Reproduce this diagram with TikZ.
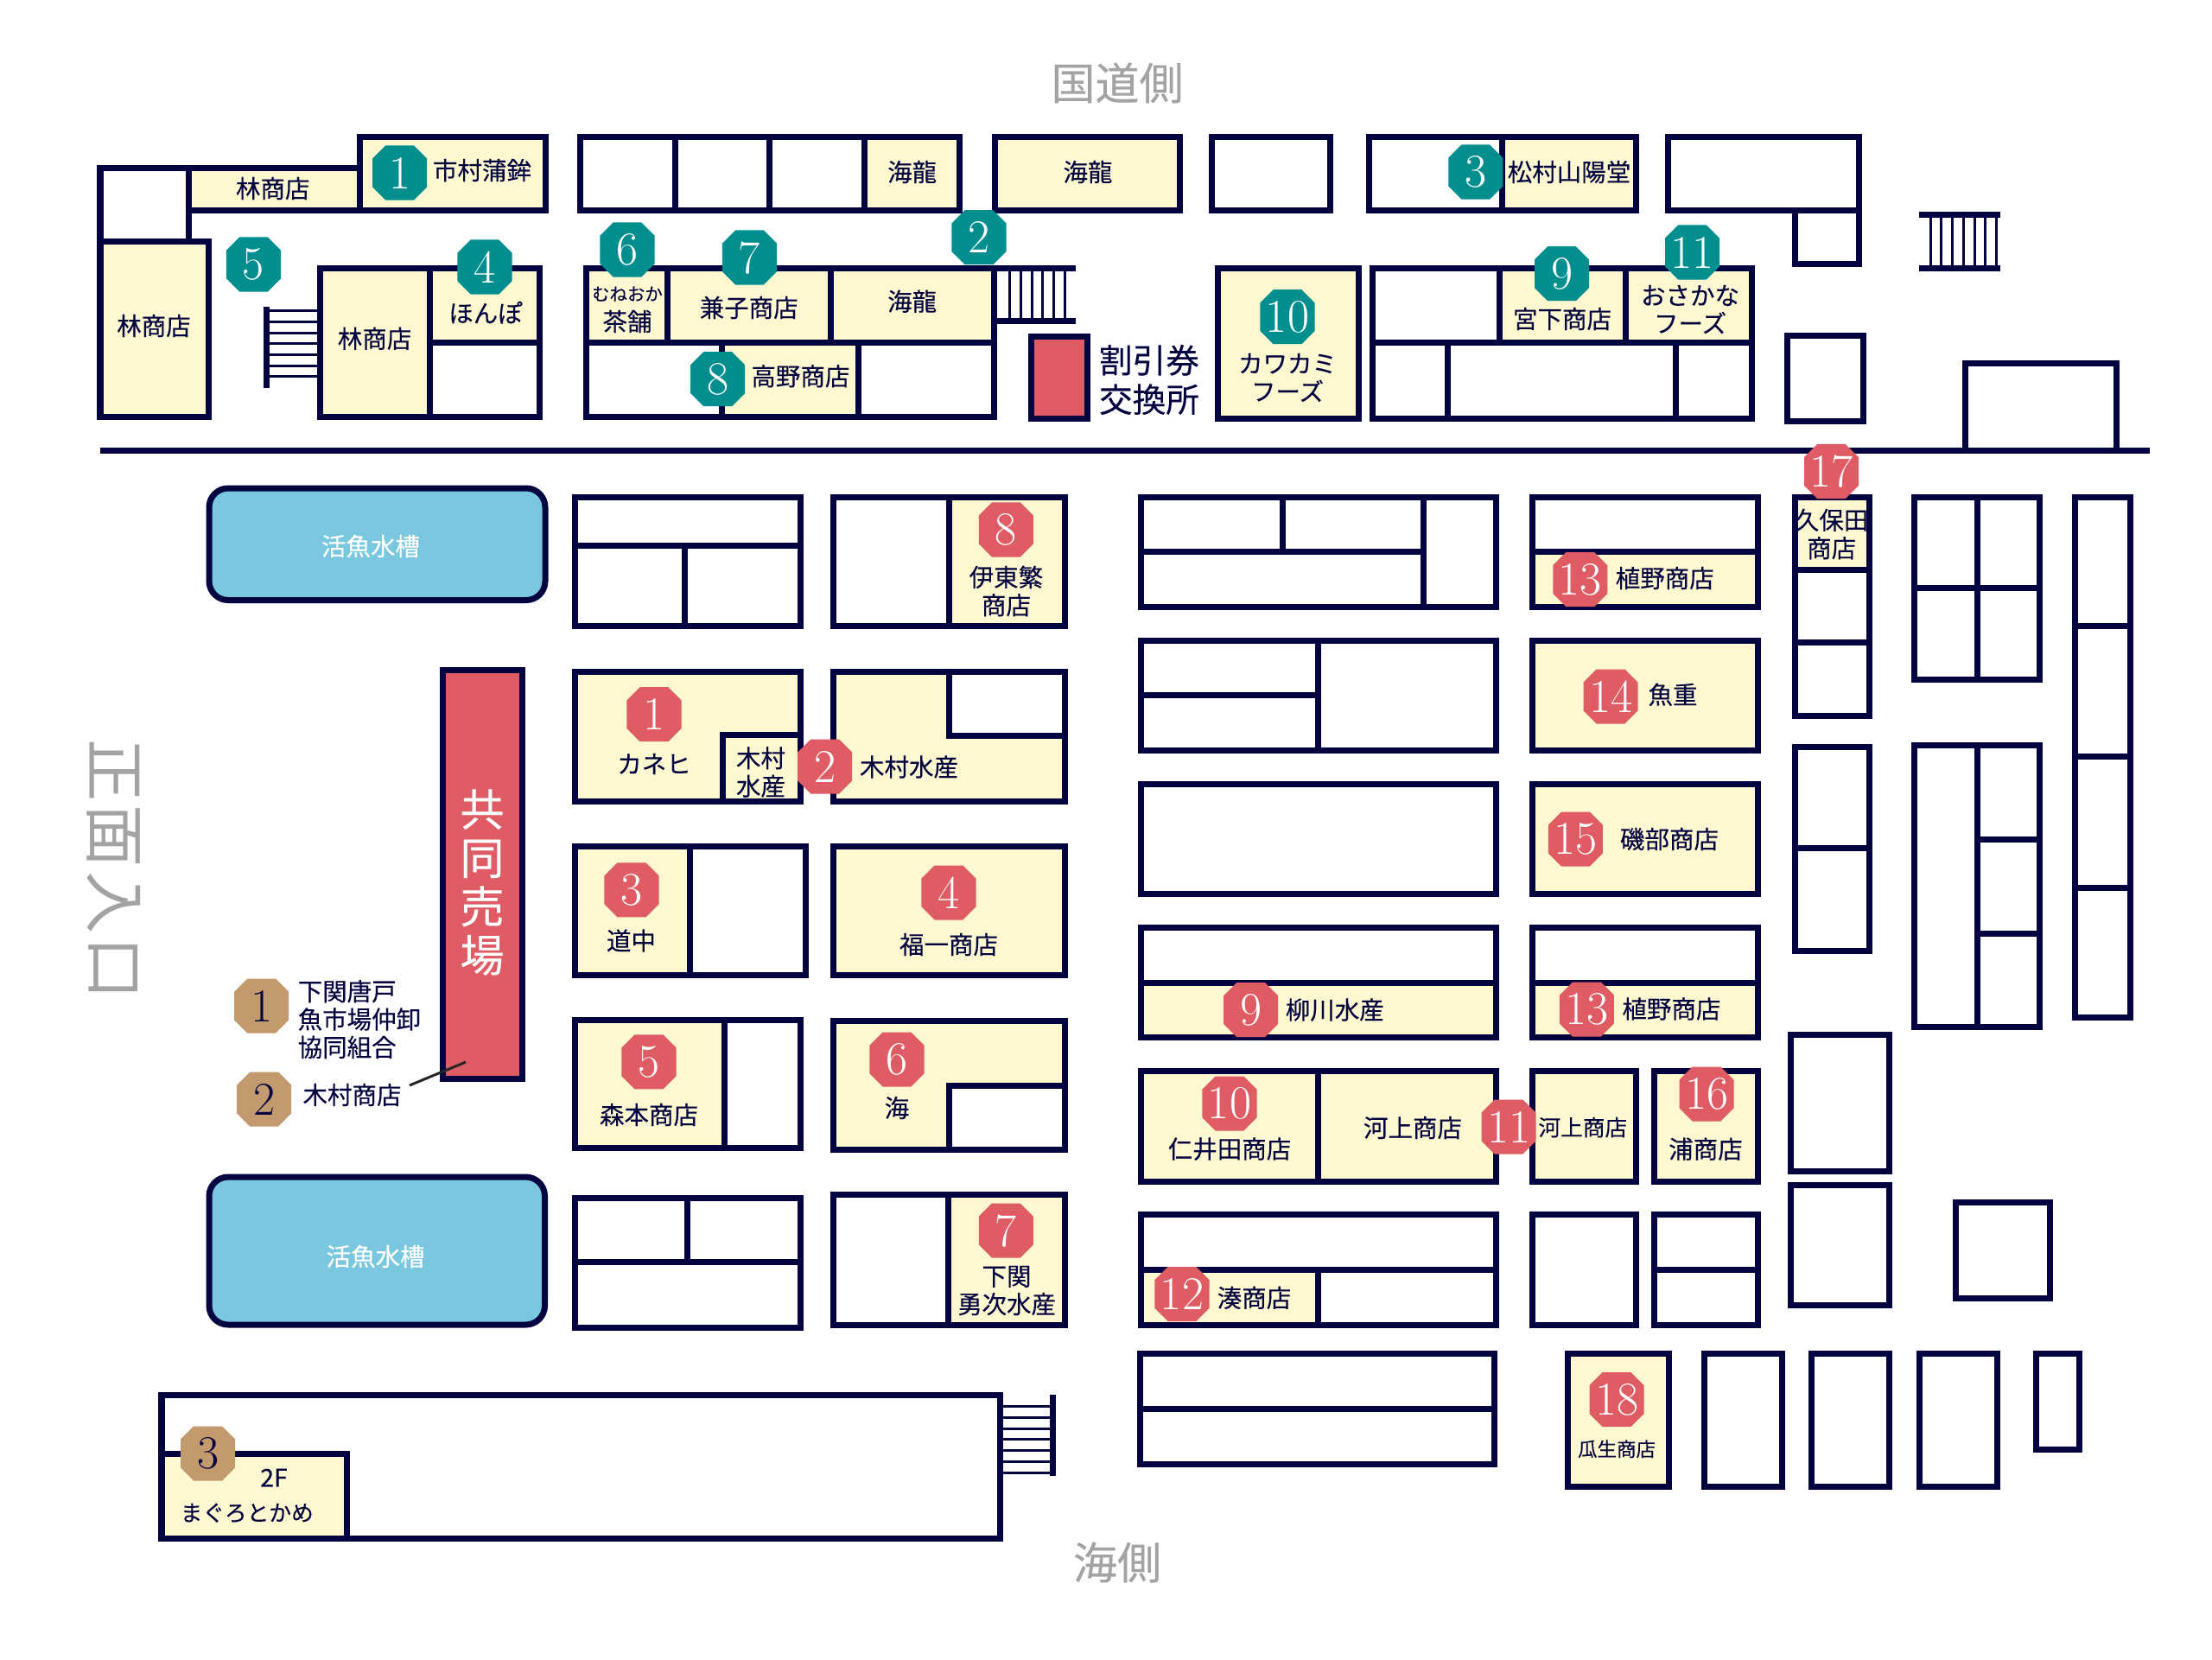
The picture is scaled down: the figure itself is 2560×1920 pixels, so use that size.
\documentclass[tikz,border=0pt]{standalone}
\usepackage{fontspec}
\usetikzlibrary{shapes.misc}
\newfontfamily\cjk[FakeBold=0.2]{Noto Sans CJK JP}
\newfontfamily\cjkgap[LetterSpace=6]{Noto Sans CJK JP}
\definecolor{mapnavy}{HTML}{03033F}
\definecolor{mapcream}{HTML}{FEF8D0}
\definecolor{mapred}{HTML}{E05C64}
\definecolor{mapteal}{HTML}{008E8E}
\definecolor{maptan}{HTML}{C29A6E}
\definecolor{mapblue}{HTML}{7AC8DF}
\definecolor{mapgray}{HTML}{A3A3A5}
\tikzset{
  stall/.style={draw=mapnavy,line width=.07cm,fill=white},
  shop/.style={stall,fill=mapcream},
  tank/.style={stall,fill=mapblue,rounded corners=.22cm},
  wall/.style={draw=mapnavy,line width=.07cm},
  tread/.style={draw=mapnavy,line width=.03cm},
  lbl/.style={text=mapnavy,inner sep=0pt,align=center,font=\cjk\fontsize{8.1}{9.2}\selectfont},
  smalllbl/.style={lbl,font=\cjk\fontsize{7.3}{9.2}\selectfont},
  sidelbl/.style={text=mapgray,inner sep=0pt,font=\cjk\fontsize{14.5}{16}\selectfont},
  badge/.style={chamfered rectangle,chamfered rectangle xsep=.05cm,inner sep=0pt,
    minimum width=.63cm,minimum height=.63cm,font=\rmfamily\fontsize{15.5}{16}\selectfont},
  tealbadge/.style={badge,fill=mapteal,text=white},
  redbadge/.style={badge,fill=mapred,text=white},
  tanbadge/.style={badge,fill=maptan,text=mapnavy}
}
\begin{document}
\begin{tikzpicture}[x=0.01cm,y=-0.01cm]
  \useasboundingbox (0,0) rectangle (2560,1920);

  % draw road
  \draw[wall] (116,521.5) -- (2488,521.5);

  % north side, top row
  \draw[stall] (116,194) rectangle (218,279);
  \draw[shop] (218,194) rectangle (416.5,243);
  \draw[shop] (416.5,158) rectangle (631.5,243);
  \draw[stall] (671.5,158) rectangle (1110,243);
  \draw[wall] (781,158) -- (781,243);
  \draw[wall] (890,158) -- (890,243);
  \draw[shop] (1000,158) rectangle (1110,243);
  \draw[shop] (1151.5,158) rectangle (1365.5,243);
  \draw[stall] (1402,158) rectangle (1539,243);
  \draw[stall] (1584,158) rectangle (1738.7,243);
  \draw[shop] (1738.7,158) rectangle (1893.5,243);
  \draw[stall] (1930.5,158) rectangle (2151,243);
  \draw[stall] (2077.5,243) rectangle (2151,305.5);

  % north side, second row
  \draw[shop] (116,279) rectangle (241,482);
  \draw[shop] (370.5,310) rectangle (497,482);
  \draw[shop] (497,310) rectangle (624.5,396);
  \draw[stall] (497,396) rectangle (624.5,482);
  \draw[stall] (678,396) rectangle (1150,482);
  \draw[shop] (835,396) rectangle (993,482);
  \draw[shop] (678,310) rectangle (772.6,396);
  \draw[shop] (772.6,310) rectangle (961.6,396);
  \draw[shop] (961.6,310) rectangle (1150,396);
  \draw[stall,fill=mapred] (1193,389) rectangle (1258.5,484);
  \draw[shop] (1409,310) rectangle (1572,484.5);
  \draw[stall] (1588.7,310) rectangle (2027,484.5);
  \draw[wall] (1588.7,396.7) -- (2027,396.7);
  \draw[shop] (1735.5,310) rectangle (1881,396.7);
  \draw[shop] (1881,310) rectangle (2027,396.7);
  \draw[wall] (1675,396.7) -- (1675,484.5);
  \draw[wall] (1939,396.7) -- (1939,484.5);
  \draw[stall] (2068,388) rectangle (2156,487);
  \draw[stall] (2274,420) rectangle (2449.5,521.5);

  % draw stairs
  \draw[wall] (308,355) -- (308,449);
  \foreach \ty in {359,372,385,397,410,423,435}
    \draw[tread] (308,\ty) -- (370.5,\ty);
  \foreach \tx in {1168,1181,1194,1206,1219,1232}
    \draw[tread] (\tx,310) -- (\tx,371);
  \draw[wall] (1150,310) -- (1245,310);
  \draw[wall] (1150,371) -- (1245,371);
  \foreach \tx in {2234,2246.5,2259,2272,2285,2297.5,2310}
    \draw[tread] (\tx,248.5) -- (\tx,310);
  \draw[wall] (2221,248.5) -- (2315,248.5);
  \draw[wall] (2221,310) -- (2315,310);
  \draw[wall] (1218.6,1613.6) -- (1218.6,1708);
  \foreach \ty in {1627.5,1640,1653.6,1665.7,1678,1691,1704}
    \draw[tread] (1157,\ty) -- (1218.6,\ty);

  % draw tanks and shared stall
  \draw[tank] (242,565) rectangle (631,694.5);
  \draw[tank] (242,1362) rectangle (630.5,1533);
  \draw[stall,fill=mapred] (512,775) rectangle (604.5,1248);

  % first column of blocks
  \draw[stall] (665,575) rectangle (926,724.5);
  \draw[wall] (665,631) -- (926,631);
  \draw[wall] (792.5,631) -- (792.5,724.5);
  \draw[shop] (665,777) rectangle (926,927);
  \draw[shop] (836,850) rectangle (926,927);
  \draw[stall] (665,979.5) rectangle (932,1128);
  \draw[shop] (665,979.5) rectangle (798.6,1128);
  \draw[stall] (665,1180) rectangle (926,1328.5);
  \draw[shop] (665,1180) rectangle (838.4,1328.5);
  \draw[stall] (665,1386) rectangle (926,1536.5);
  \draw[wall] (665,1460.7) -- (926,1460.7);
  \draw[wall] (795.4,1386) -- (795.4,1460.7);

  % second column of blocks
  \draw[stall] (964.5,575) rectangle (1232,724.5);
  \draw[shop] (1098,575) rectangle (1232,724.5);
  \draw[shop] (964.5,777) rectangle (1232,927);
  \draw[stall] (1098,777) rectangle (1232,851);
  \draw[shop] (964.5,979.5) rectangle (1232,1128);
  \draw[shop] (964.5,1181.5) rectangle (1232,1330.5);
  \draw[stall] (1098,1256) rectangle (1232,1330.5);
  \draw[stall] (964.5,1382) rectangle (1232,1533);
  \draw[shop] (1097.6,1382) rectangle (1232,1533);

  % third column of blocks
  \draw[stall] (1320.4,575) rectangle (1731,702);
  \draw[wall] (1320.4,638) -- (1647.4,638);
  \draw[wall] (1484.4,575) -- (1484.4,638);
  \draw[wall] (1647.4,575) -- (1647.4,702);
  \draw[stall] (1320.4,741) rectangle (1731,868);
  \draw[wall] (1525.7,741) -- (1525.7,868);
  \draw[wall] (1320.4,804) -- (1525.7,804);
  \draw[stall] (1320.4,907) rectangle (1731,1034.5);
  \draw[stall] (1320.4,1073) rectangle (1731,1137);
  \draw[shop] (1320.4,1137) rectangle (1731,1200);
  \draw[shop] (1320.4,1239) rectangle (1525.7,1367);
  \draw[shop] (1525.7,1239) rectangle (1731,1367);
  \draw[stall] (1320.4,1405) rectangle (1731,1469);
  \draw[stall] (1525.7,1469) rectangle (1731,1533);
  \draw[shop] (1320.4,1469) rectangle (1525.7,1533);
  \draw[stall] (1319,1566.5) rectangle (1729.5,1694);
  \draw[wall] (1319,1630) -- (1729.5,1630);

  % fourth column of blocks
  \draw[stall] (1773.5,575) rectangle (2034,638);
  \draw[shop] (1773.5,638) rectangle (2034,702);
  \draw[shop] (1773.5,741) rectangle (2034,868);
  \draw[shop] (1773.5,907) rectangle (2034,1034.5);
  \draw[stall] (1773.5,1073) rectangle (2034,1137);
  \draw[shop] (1773.5,1137) rectangle (2034,1200);
  \draw[shop] (1773.5,1239) rectangle (1893,1367);
  \draw[shop] (1914,1239) rectangle (2034,1367);
  \draw[stall] (1773.5,1405) rectangle (1893,1533);
  \draw[stall] (1914,1405) rectangle (2034,1533);
  \draw[wall] (1914,1469) -- (2034,1469);
  \draw[shop] (1814.7,1566.5) rectangle (1931.5,1720.5);

  % far right blocks
  \draw[stall] (2077,575) rectangle (2163.5,828);
  \draw[shop] (2077,575) rectangle (2163.5,659);
  \draw[wall] (2077,743) -- (2163.5,743);
  \draw[stall] (2077,864) rectangle (2163.5,1100);
  \draw[wall] (2077,981) -- (2163.5,981);
  \draw[stall] (2072.6,1197) rectangle (2186,1355);
  \draw[stall] (2072.6,1371) rectangle (2186,1510.5);
  \draw[stall] (2263,1391.4) rectangle (2372.5,1502);
  \draw[stall] (2215.7,575) rectangle (2360,786);
  \draw[wall] (2288.7,575) -- (2288.7,786);
  \draw[wall] (2215.7,680) -- (2360,680);
  \draw[stall] (2215.7,862) rectangle (2360,1188.5);
  \draw[wall] (2288.7,862) -- (2288.7,1188.5);
  \draw[wall] (2288.7,971) -- (2360,971);
  \draw[wall] (2288.7,1080) -- (2360,1080);
  \draw[stall] (2401,575) rectangle (2465,1177);
  \draw[wall] (2401,724.7) -- (2465,724.7);
  \draw[wall] (2401,875.7) -- (2465,875.7);
  \draw[wall] (2401,1027) -- (2465,1027);
  \draw[stall] (1972,1566.5) rectangle (2062.5,1720.5);
  \draw[stall] (2096.5,1566.5) rectangle (2186,1720.5);
  \draw[stall] (2221,1566.5) rectangle (2311,1720.5);
  \draw[stall] (2356.5,1566.5) rectangle (2406,1677);

  % south hall
  \draw[stall] (187,1614) rectangle (1157,1780);
  \draw[shop] (187,1682) rectangle (401.5,1780);

  % leader line
  \coordinate (leader_a) at (474,1256);
  \coordinate (leader_b) at (539,1229);
  \draw[draw=black!85,line width=.03cm] (leader_a) -- (leader_b);

  % side names
  \node[sidelbl] (kokudo) at (1293,96) {国道側};
  \node[sidelbl] (umigawa) at (1293,1808) {海側};
  \node[sidelbl,rotate=-90,font=\cjkgap\fontsize{20.5}{22}\selectfont] (shomen) at (131.5,1006) {正面入口};

  % north labels
  \node[lbl] (hayashi1) at (315.7,218) {林商店};
  \node[lbl] (ichimura) at (558,197) {市村蒲鉾};
  \node[lbl] (kairyu1) at (1055.7,199) {海龍};
  \node[lbl] (kairyu2) at (1259,199) {海龍};
  \node[lbl] (matsumura) at (1816,199) {松村山陽堂};
  \node[lbl] (hayashi2) at (178,377) {林商店};
  \node[lbl] (hayashi3) at (433.6,391.7) {林商店};
  \node[lbl] (honpo) at (562,361.7) {ほんぽ};
  \node[lbl,font=\cjk\fontsize{5.8}{6.5}\selectfont] (muneoka) at (726,340) {むねおか};
  \node[lbl] (chaho) at (726,372) {茶舗};
  \node[lbl] (kaneko) at (866.7,356) {兼子商店};
  \node[lbl] (kairyu3) at (1055.7,348.7) {海龍};
  \node[lbl] (takano) at (926.4,435.3) {高野商店};
  \node[lbl] (miyashita) at (1808,369) {宮下商店};
  \node[lbl] (osakana) at (1956,358) {おさかな\\フーズ};
  \node[lbl] (kawakami) at (1490,437) {カワカミ\\フーズ};
  \node[lbl,font=\cjk\fontsize{11}{12.9}\selectfont] (waribiki) at (1330,439.5) {割引券\\交換所};

  % market labels
  \node[lbl,text=white] (ikeuo1) at (429,632) {活魚水槽};
  \node[lbl,text=white] (ikeuo2) at (434.6,1454) {活魚水槽};
  \node[lbl,text=white,font=\cjk\fontsize{14.5}{16}\selectfont] (kyodo) at (558,1021) {共\\同\\売\\場};
  \node[lbl,align=left,anchor=west] (karato) at (344,1179.5) {下関唐戸\\魚市場仲卸\\協同組合};
  \node[lbl] (kimura3) at (407.5,1267) {木村商店};
  \node[lbl] (kanehi) at (757,884) {カネヒ};
  \node[lbl] (kimura1) at (880.5,893.5) {木村\\水産};
  \node[lbl] (kimura2) at (1052,887.5) {木村水産};
  \node[lbl] (michinaka) at (730.5,1088.5) {道中};
  \node[lbl] (fukuichi) at (1098,1093) {福一商店};
  \node[lbl] (morimoto) at (751,1290) {森本商店};
  \node[lbl] (umi) at (1038,1282) {海};
  \node[lbl] (ito) at (1164.4,684) {伊東繁\\商店};
  \node[lbl] (yuji) at (1165,1493.5) {下関\\勇次水産};
  \node[lbl] (ueno1) at (1926.7,669) {植野商店};
  \node[lbl] (ueno2) at (1934.4,1167.5) {植野商店};
  \node[lbl] (kubota) at (2119.6,618) {久保田\\商店};
  \node[lbl] (uoju) at (1936,803.8) {魚重};
  \node[lbl] (isobe) at (1932,971) {磯部商店};
  \node[lbl] (yanagawa) at (1544.8,1168.6) {柳川水産};
  \node[lbl] (kawakami1) at (1635,1305) {河上商店};
  \node[smalllbl] (kawakami2) at (1831.8,1304.6) {河上商店};
  \node[lbl] (niida) at (1423,1329.6) {仁井田商店};
  \node[lbl] (ura) at (1974,1329.6) {浦商店};
  \node[lbl] (minato) at (1451.5,1501.8) {湊商店};
  \node[lbl,font=\cjk\fontsize{6.4}{8}\selectfont] (uryu) at (1871,1676.8) {瓜生商店};
  \node[lbl] (nikai) at (317,1710) {2F};
  \node[smalllbl] (maguro) at (285.7,1750.7) {まぐろとかめ};

  % teal badges
  \foreach \nm/\bx/\by/\bt in {t1/462.6/200/1,t2/1133/274.7/2,t3/1707.8/199/3,t4/561/309/4,
    t5/293.5/306/5,t6/726/289/6,t7/867.5/298/7,t8/830.7/438.7/8,t9/1807.5/316.7/9,
    t10/1490/366.7/10,t11/1958.5/292/11}
    \node[tealbadge] (\nm) at (\bx,\by) {\bt};

  % red badges
  \foreach \nm/\bx/\by/\bt in {r1/757/826.7/1,r2/954.7/887/2,r3/731/1029.8/3,r4/1098/1033/4,
    r5/751/1228.8/5,r6/1038/1226/6,r7/1164.3/1424/7,r8/1164.4/613/8,r9/1447.6/1168.6/9,
    r10/1423/1277/10,r11/1746/1304/11,r12/1368/1497.5/12,r13a/1828.8/670.6/13,
    r13b/1836.4/1168/13,r14/1864/806/14,r15/1823.4/971/15,r16/1975/1266/16,
    r17/2119.5/545.5/17,r18/1871/1619.6/18}
    \node[redbadge] (\nm) at (\bx,\by) {\bt};

  % tan badges
  \foreach \nm/\bx/\by/\bt in {b1/302.7/1164/1,b2/305.7/1272/2,b3/240.6/1682/3}
    \node[tanbadge] (\nm) at (\bx,\by) {\bt};

\end{tikzpicture}
\end{document}
